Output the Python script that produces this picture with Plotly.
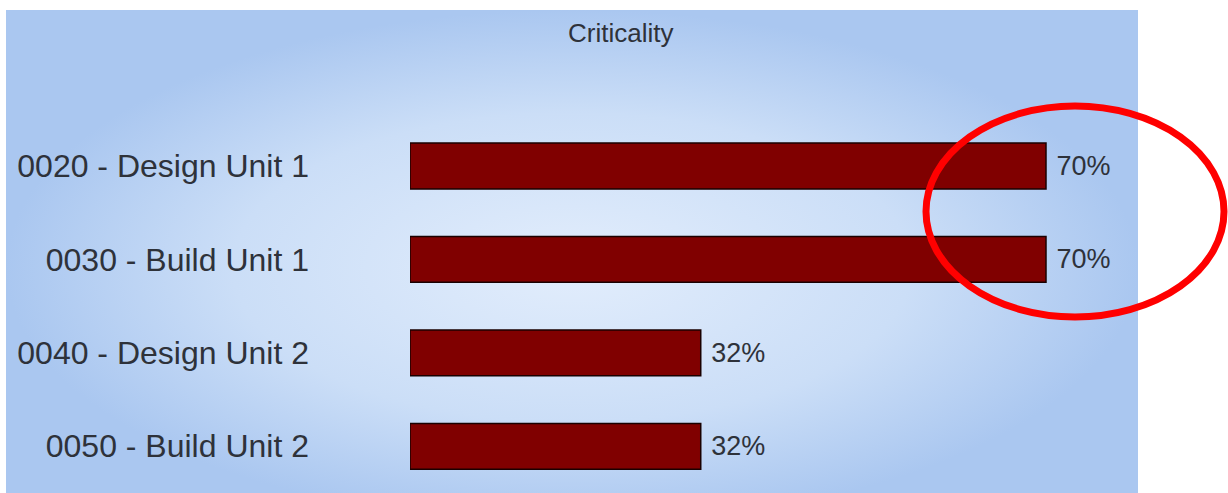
import plotly.graph_objects as go

# ---- data ----
categories = ["0020 - Design Unit 1", "0030 - Build Unit 1",
              "0040 - Design Unit 2", "0050 - Build Unit 2"]
criticality = [70, 70, 32, 32]
title_text = "Criticality"

W, H = 1228, 493
FONT = "Liberation Sans, Arial, sans-serif"
TXT = "#2e323a"

fig = go.Figure()

# gradient panel background (pixel-coordinate helper axes)
fig.add_trace(go.Scatter(
    x=[6, 1138, 1138, 6, 6], y=[10, 10, 525, 525, 10],
    mode="lines", line=dict(width=0), fill="toself",
    fillgradient=dict(type="radial",
                      colorscale=[[0, "rgb(226,237,252)"], [0.6, "rgb(203,222,247)"],
                                  [1, "rgb(170,199,240)"]]),
    hoverinfo="skip", showlegend=False, xaxis="x", yaxis="y"))

# bars
fig.add_trace(go.Bar(
    y=categories, x=criticality, orientation="h",
    width=0.49,
    marker=dict(color="#800000", line=dict(color="#1a0000", width=1.5)),
    text=[f"\u00a0{v}%" for v in criticality], textposition="outside",
    textfont=dict(family=FONT, size=27, color=TXT),
    cliponaxis=False,
    hoverinfo="skip", showlegend=False, xaxis="x2", yaxis="y2"))

x0_px, px_per_unit, x_end_px = 410, (1046 - 410) / 70, 1138

fig.update_layout(
    width=W, height=H,
    margin=dict(l=0, r=0, t=0, b=0),
    paper_bgcolor="white", plot_bgcolor="rgba(0,0,0,0)",
    xaxis=dict(domain=[0, 1], range=[0, W], visible=False, fixedrange=True),
    yaxis=dict(domain=[0, 1], range=[H, 0], visible=False, fixedrange=True),
    xaxis2=dict(domain=[x0_px / W, x_end_px / W],
                range=[0, (x_end_px - x0_px) / px_per_unit],
                anchor="y2", showgrid=False, zeroline=False,
                showticklabels=False, showline=False, ticks=""),
    yaxis2=dict(domain=[0, 1 - 119.3 / H], anchor="x2",
                autorange="reversed", showgrid=False, zeroline=False,
                showline=False, ticks="", ticklabelstandoff=100,
                tickfont=dict(family=FONT, size=32, color=TXT)),
    annotations=[dict(text=title_text, xref="paper", yref="paper",
                      x=620 / W, y=1 - 33 / H, xanchor="center", yanchor="middle",
                      showarrow=False,
                      font=dict(family=FONT, size=26, color=TXT))],
    shapes=[dict(type="circle", xref="x", yref="y",
                 x0=926, x1=1224, y0=106, y1=317,
                 line=dict(color="#ff0000", width=7), layer="above")],
)

fig.write_html("out.html", config={"displayModeBar": False},
               post_script="document.body.style.margin='0';document.body.style.overflow='hidden';")
